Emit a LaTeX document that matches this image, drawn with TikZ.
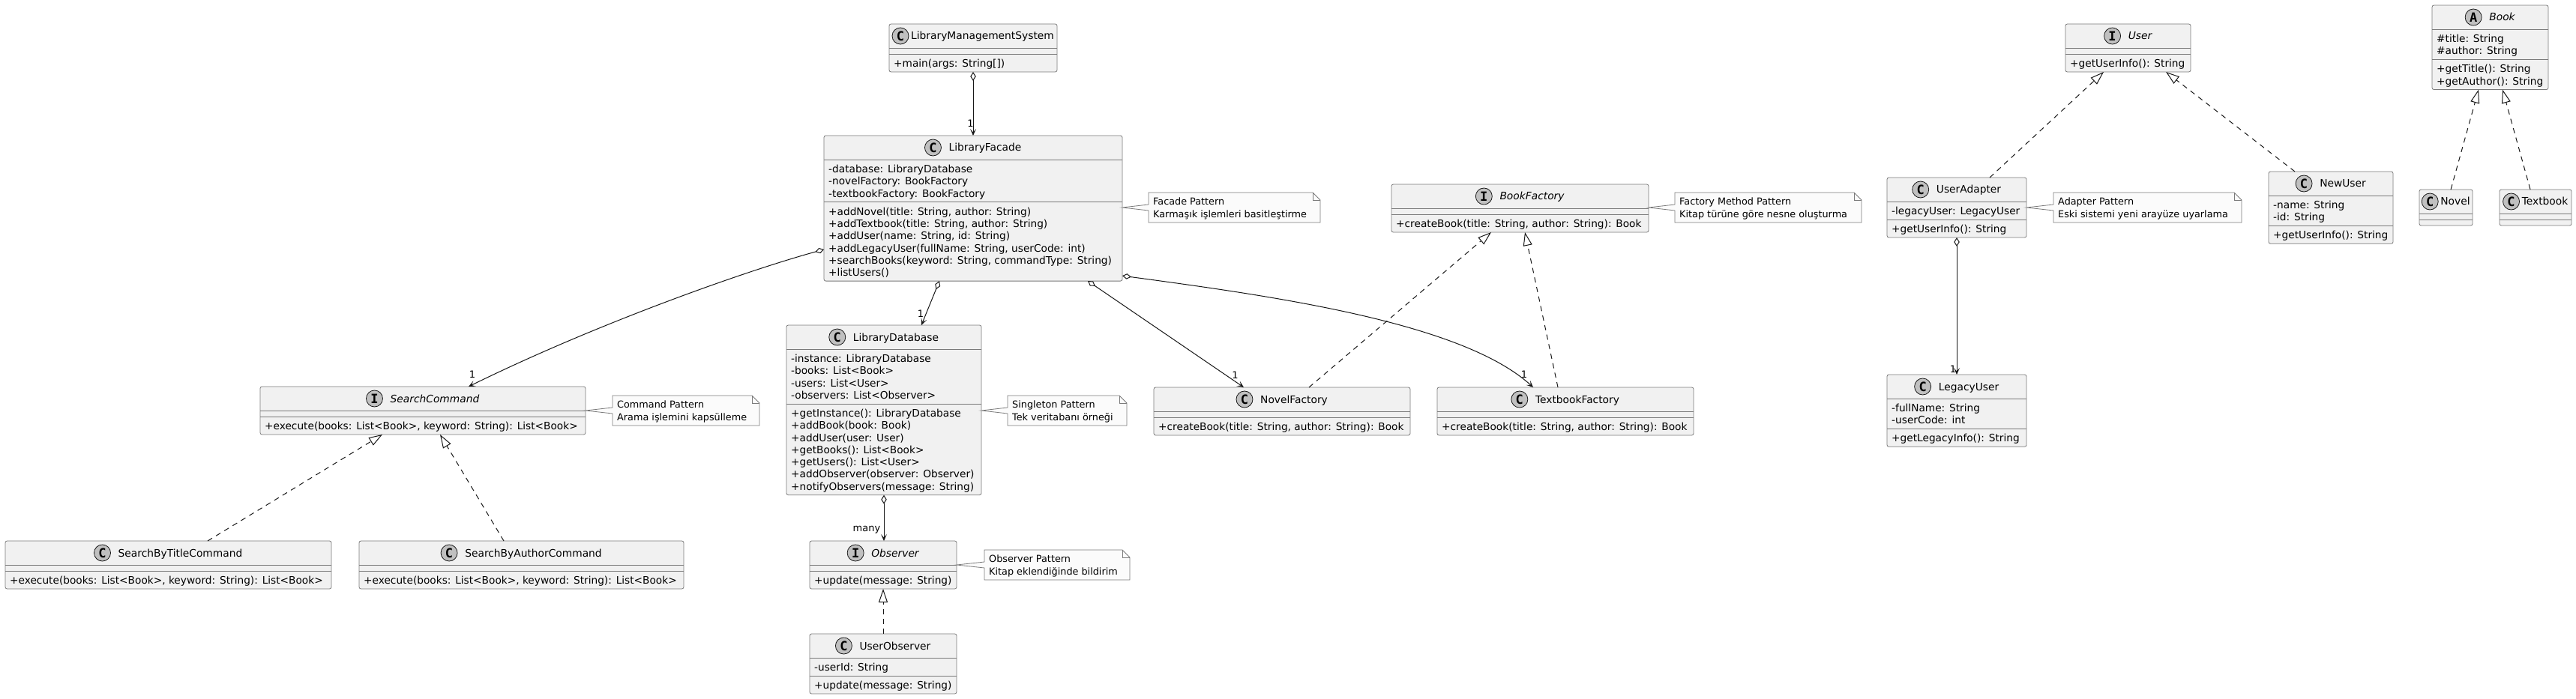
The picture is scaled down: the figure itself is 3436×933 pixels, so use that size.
\documentclass[tikz,border=0pt]{standalone}
\usepackage{fontspec}
\setmainfont{DejaVu Sans}
\newfontfamily\iconfont{DejaVu Sans Mono}
\usetikzlibrary{arrows.meta}
\definecolor{ink}{HTML}{181818}
\definecolor{boxfill}{HTML}{F1F1F1}
\definecolor{boxline}{HTML}{7A7A7A}
\definecolor{notefill}{HTML}{FBFBFB}
\definecolor{iconfill}{HTML}{C0C0C0}
\tikzset{
  umlbox/.style={draw=boxline, fill=boxfill, line width=0.8pt, rounded corners=2.5pt, inner sep=0pt, outer sep=0pt},
  sepline/.style={draw=boxline, line width=0.8pt},
  mem/.style={inner sep=0pt, anchor=base west, font=\fontsize{13.7}{16}\selectfont},
  cname/.style={inner sep=0pt, font=\fontsize{13.8}{16}\selectfont},
  icon/.style={circle, draw=ink, line width=0.8pt, fill=iconfill, minimum size=22pt, inner sep=0pt, font=\iconfont\bfseries\fontsize{17}{17}\selectfont},
  notebox/.style={draw=boxline, fill=notefill, line width=0.8pt},
  notetext/.style={inner sep=0pt, anchor=base west, font=\fontsize{12.8}{15}\selectfont},
  lbl/.style={inner sep=0pt, font=\fontsize{13}{15}\selectfont},
  assoc/.style={draw=ink, line width=1pt, {Diamond[open,length=12pt,width=7.5pt]}-{Stealth[length=9pt,width=8pt,inset=4.5pt]}},
  realize/.style={draw=ink, line width=1pt, dash pattern=on 7pt off 6pt, -{Triangle[open,length=18pt,width=12pt]}},
}
% id, x1, y1, x2, nAttr, nMeth, attrs, methods
\newcommand\umlbox[8]{%
  \pgfmathsetmacro\hA{ifthenelse(#5==0,8,24+16.3*(#5-1))}%
  \pgfmathsetmacro\hM{ifthenelse(#6==0,8,24+16.3*(#6-1))}%
  \pgfmathsetmacro\hT{32+\hA+\hM}%
  \pgfmathsetmacro\wT{#4-#2}%
  \pgfmathsetmacro\sA{#3+32}%
  \pgfmathsetmacro\sM{#3+32+\hA}%
  \node[umlbox, minimum width=\wT pt, minimum height=\hT pt, anchor=north west] (#1) at (#2,#3) {};
  \draw[sepline] (#2,\sA) -- (#4,\sA);
  \draw[sepline] (#2,\sM) -- (#4,\sM);
  \ifnum#5>0 \foreach[count=\i] \mtxt in {#7} {\node[mem] (#1a\i) at (#2+6, {\sA+17.5+16.3*(\i-1)}) {\mtxt};}\fi
  \ifnum#6>0 \foreach[count=\i] \mtxt in {#8} {\node[mem] (#1m\i) at (#2+6, {\sM+17.5+16.3*(\i-1)}) {\mtxt};}\fi
}
% [gap] id, letter, name
\newcommand\umlhead[4][10]{%
  \pgfmathsetmacro\hshift{(22+#1)/2}%
  \pgfmathsetmacro\ishift{#1+11}%
  \node[cname, anchor=base] (#2n) at ([xshift=\hshift pt, yshift=-21pt]#2.north) {#4};
  \node[icon] (#2i) at ([xshift=-\ishift pt, yshift=5pt]#2n.base west) {#3};
}
% id, x1, y1, x2, target, line1, line2
\newcommand\umlnote[7]{%
  \pgfmathsetmacro\nw{#4-#2}%
  \node[inner sep=0pt, outer sep=0pt, minimum width=\nw pt, minimum height=40pt, anchor=north west] (#1) at (#2,#3) {};
  \draw[notebox] (#1.north west) -- ([xshift=-10pt]#1.north east) -- ([yshift=-10pt]#1.north east) -- (#1.south east) -- (#1.south west) -- ([yshift=-4pt]#1.west) -- (#5.east |- #1.west) -- ([yshift=4pt]#1.west) -- cycle;
  \draw[notebox, fill=none] ([xshift=-10pt]#1.north east) -- ([xshift=-10pt,yshift=-10pt]#1.north east) -- ([yshift=-10pt]#1.north east);
  \node[notetext] (#1t1) at (#2+6, #3+16.5) {#6};
  \node[notetext] (#1t2) at (#2+6, #3+33.5) {#7};
}
\begin{document}
\begin{tikzpicture}[x=1pt,y=-1pt]
\fill[white] (0,0) rectangle (3436,933);
\useasboundingbox (0,0) rectangle (3436,933);

% ---------- classes ----------
\umlbox{lms}{1186}{32}{1410}{0}{1}{}{{+main(args: String[])}}
\umlhead[3]{lms}{C}{LibraryManagementSystem}

\umlbox{facade}{1099}{181}{1497}{3}{6}{{-database: LibraryDatabase},{-novelFactory: BookFactory},{-textbookFactory: BookFactory}}{{+addNovel(title: String, author: String)},{+addTextbook(title: String, author: String)},{+addUser(name: String, id: String)},{+addLegacyUser(fullName: String, userCode: int)},{+searchBooks(keyword: String, commandType: String)},{+listUsers()}}
\umlhead{facade}{C}{LibraryFacade}

\umlbox{sc}{347}{516}{781}{0}{1}{}{{+execute(books: List<Book>, keyword: String): List<Book>}}
\umlhead{sc}{I}{\itshape SearchCommand}

\umlbox{sbt}{7}{722}{442}{0}{1}{}{{+execute(books: List<Book>, keyword: String): List<Book>}}
\umlhead{sbt}{C}{SearchByTitleCommand}

\umlbox{sba}{479}{722}{912}{0}{1}{}{{+execute(books: List<Book>, keyword: String): List<Book>}}
\umlhead{sba}{C}{SearchByAuthorCommand}

\umlbox{db}{1049}{434}{1309}{4}{7}{{-instance: LibraryDatabase},{-books: List<Book>},{-users: List<User>},{-observers: List<Observer>}}{{+getInstance(): LibraryDatabase},{+addBook(book: Book)},{+addUser(user: User)},{+getBooks(): List<Book>},{+getUsers(): List<User>},{+addObserver(observer: Observer)},{+notifyObservers(message: String)}}
\umlhead{db}{C}{LibraryDatabase}

\umlbox{obs}{1080}{722}{1276}{0}{1}{}{{+update(message: String)}}
\umlhead{obs}{I}{\itshape Observer}

\umlbox{uo}{1080}{846}{1276}{1}{1}{{-userId: String}}{{+update(message: String)}}
\umlhead{uo}{C}{UserObserver}

\umlbox{nf}{1539}{517}{1881}{0}{1}{}{{+createBook(title: String, author: String): Book}}
\umlhead{nf}{C}{NovelFactory}

\umlbox{tf}{1917}{517}{2259}{0}{1}{}{{+createBook(title: String, author: String): Book}}
\umlhead{tf}{C}{TextbookFactory}

\umlbox{bf}{1856}{246}{2199}{0}{1}{}{{+createBook(title: String, author: String): Book}}
\umlhead{bf}{I}{\itshape BookFactory}

\umlbox{user}{2755}{32}{2922}{0}{1}{}{{+getUserInfo(): String}}
\umlhead{user}{I}{\itshape User}

\umlbox{ua}{2517}{237}{2703}{1}{1}{{-legacyUser: LegacyUser}}{{+getUserInfo(): String}}
\umlhead{ua}{C}{UserAdapter}

\umlbox{nu}{3026}{229}{3192}{2}{1}{{-name: String},{-id: String}}{{+getUserInfo(): String}}
\umlhead{nu}{C}{NewUser}

\umlbox{lu}{2517}{500}{2703}{2}{1}{{-fullName: String},{-userCode: int}}{{+getLegacyInfo(): String}}
\umlhead{lu}{C}{LegacyUser}

\umlbox{book}{3244}{7}{3399}{2}{2}{{\#title: String},{\#author: String}}{{+getTitle(): String},{+getAuthor(): String}}
\umlhead{book}{A}{\itshape Book}

\umlbox{novel}{3227}{253}{3298}{0}{0}{}{}
\umlhead[3]{novel}{C}{Novel}

\umlbox{tb}{3334}{253}{3430}{0}{0}{}{}
\umlhead[3]{tb}{C}{Textbook}

% ---------- notes ----------
\umlnote{nfacade}{1532}{257}{1761}{facade}{Facade Pattern}{Karmaşık işlemleri basitleştirme}
\umlnote{ncommand}{817}{528}{1013}{sc}{Command Pattern}{Arama işlemini kapsülleme}
\umlnote{nsingle}{1344}{528}{1503}{db}{Singleton Pattern}{Tek veritabanı örneği}
\umlnote{nobs}{1313}{734}{1507}{obs}{Observer Pattern}{Kitap eklendiğinde bildirim}
\umlnote{nfact}{2234}{257}{2483}{bf}{Factory Method Pattern}{Kitap türüne göre nesne oluşturma}
\umlnote{nadapt}{2739}{257}{2990}{ua}{Adapter Pattern}{Eski sistemi yeni arayüze uyarlama}

% ---------- aggregations ----------
\draw[assoc] (lms.south) -- (facade.north);
\draw[assoc] ([yshift=-152pt]facade.north west) .. controls +(-99,27) and +(175,-86) .. ([xshift=278pt]sc.north west);
\draw[assoc] ([xshift=154pt]facade.south west) -- ([xshift=180pt]db.north west);
\draw[assoc] ([xshift=352pt]facade.south west) -- ([xshift=120pt]nf.north west);
\draw[assoc] ([yshift=7pt]facade.south east) .. controls +(200,27) and +(-95,-87) .. ([xshift=128pt]tf.north west);
\draw[assoc] (db.south) -- (db.south |- obs.north);
\draw[assoc] (ua.south) -- (ua.south |- lu.north);

% ---------- multiplicities ----------
\node[lbl] (m1) at (1294.5,165) {1};
\node[lbl] (m2) at (630,500) {1};
\node[lbl] (m3) at (1228,419) {1};
\node[lbl] (m4) at (1647.5,501) {1};
\node[lbl] (m5) at (2033,500) {1};
\node[lbl] (m6) at (2605,493) {1};
\node[lbl] (m7) at (1156,707) {many};

% ---------- realizations ----------
\draw[realize] ([xshift=270pt]sbt.north west) -- ([xshift=163pt]sc.south west);
\draw[realize] ([xshift=193pt]sba.north west) -- ([xshift=240pt]sc.south west);
\draw[realize] (uo.north) -- (obs.south);
\draw[realize] ([xshift=207pt]nf.north west) -- ([xshift=133pt]bf.south west);
\draw[realize] ([xshift=161pt]tf.north west) -- ([xshift=178pt]bf.south west);
\draw[realize] ([xshift=137pt]ua.north west) -- ([xshift=51pt]user.south west);
\draw[realize] ([xshift=35pt]nu.north west) -- ([xshift=134pt]user.south west);
\draw[realize] ([xshift=42pt]novel.north west) -- ([xshift=62pt]book.south west);
\draw[realize] ([xshift=41pt]tb.north west) -- ([xshift=94pt]book.south west);
\end{tikzpicture}
\end{document}
